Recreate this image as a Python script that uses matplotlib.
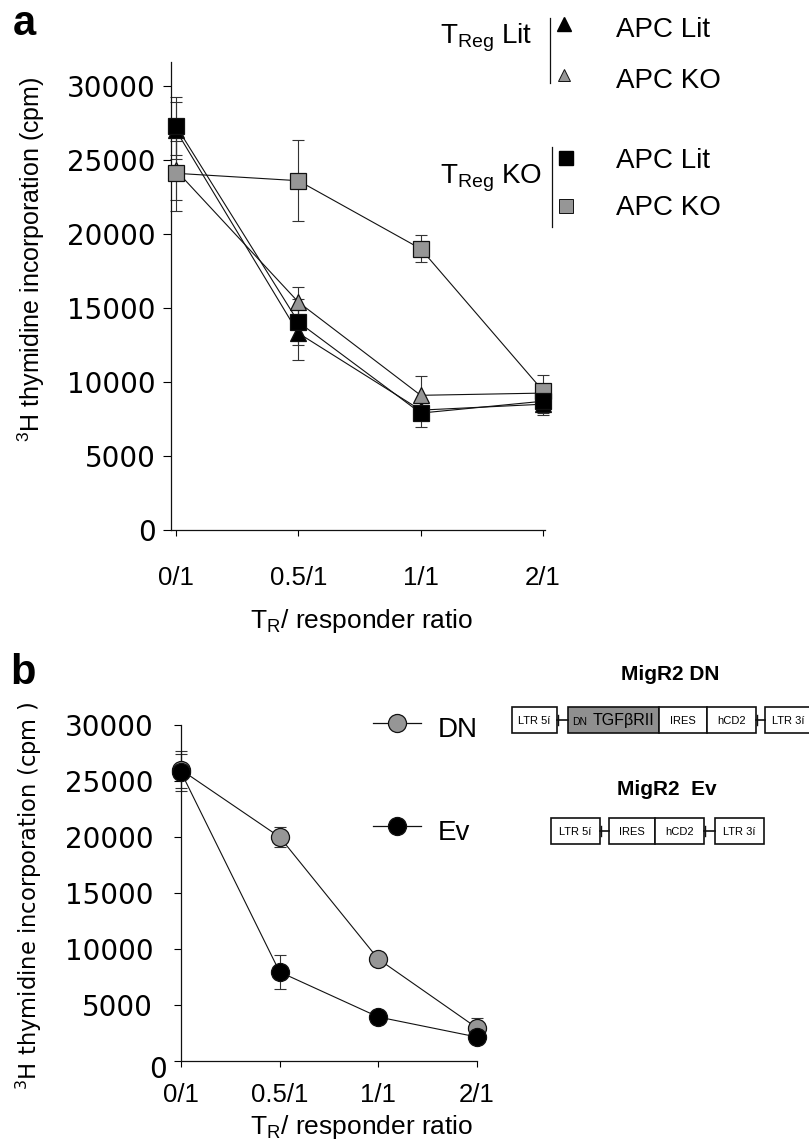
import matplotlib
matplotlib.use('Agg')
import matplotlib.pyplot as plt
from matplotlib.patches import Rectangle
import matplotlib.transforms as mtransforms

W, H, DPI = 809, 1145, 100

# ---------------- data ----------------
ratios = ['0/1', '0.5/1', '1/1', '2/1']
xpos = [0, 1, 2, 3]

# panel a  (3H thymidine incorporation, cpm)
treg_lit_apc_lit = [27000, 13300, 8100, 8500]
treg_lit_apc_lit_err = [1900, 1800, 700, 750]
treg_lit_apc_ko = [24300, 15400, 9100, 9250]
treg_lit_apc_ko_err = [2000, 1000, 1300, 300]
treg_ko_apc_lit = [27300, 14050, 7900, 8700]
treg_ko_apc_lit_err = [1950, 1550, 950, 800]
treg_ko_apc_ko = [24100, 23600, 19000, 9400]
treg_ko_apc_ko_err = [2550, 2750, 900, 1100]

# panel b
dn_vals = [26000, 20000, 9100, 2950]
dn_err = [1650, 900, 500, 900]
ev_vals = [25800, 7950, 3930, 2140]
ev_err = [1650, 1500, 300, 300]

yticks = [0, 5000, 10000, 15000, 20000, 25000, 30000]

GRAY = '#969696'
SANS = 'Liberation Sans'
TICKF = 'DejaVu Sans'

plt.rcParams['mathtext.fontset'] = 'custom'
plt.rcParams['mathtext.rm'] = SANS
plt.rcParams['mathtext.it'] = SANS
plt.rcParams['mathtext.bf'] = SANS + ':bold'

fig = plt.figure(figsize=(W / DPI, H / DPI), dpi=DPI)


def px_rect(l, t, r, b):
    return [l / W, 1 - b / H, (r - l) / W, (b - t) / H]


def style_axes(ax, ypad, xpad, ticklen):
    for s in ('top', 'right'):
        ax.spines[s].set_visible(False)
    for s in ('left', 'bottom'):
        ax.spines[s].set_linewidth(0.9)
        ax.spines[s].set_color('#111111')
    ax.set_yticks(yticks)
    ax.set_yticklabels([str(v) for v in yticks], fontfamily=TICKF, fontsize=20)
    ax.set_xticks(xpos)
    ax.set_xticklabels(ratios, fontfamily=SANS, fontsize=18.5)
    ax.tick_params(axis='y', direction='out', length=ticklen, width=0.8, pad=ypad)
    ax.tick_params(axis='x', direction='out', length=4, width=0.8, pad=xpad)


def series(ax, y, err, marker, color, ms):
    ax.errorbar(xpos, y, yerr=err, fmt='none', ecolor='#333333', elinewidth=0.8,
                capsize=4.3, capthick=0.8, clip_on=False, zorder=2)
    ax.plot(xpos, y, color='#111111', lw=0.8, marker=marker, ms=ms,
            markerfacecolor=color, markeredgecolor='#111111', markeredgewidth=0.9,
            clip_on=False, zorder=3)


# ---------------- panel a ----------------
axa = fig.add_axes(px_rect(171, 62, 545, 530))
style_axes(axa, ypad=5, xpad=22, ticklen=6)
axa.set_xlim(-0.041, 3.016)
axa.set_ylim(0, 31620)
series(axa, treg_lit_apc_lit, treg_lit_apc_lit_err, '^', '#000000', 12)
series(axa, treg_lit_apc_ko, treg_lit_apc_ko_err, '^', GRAY, 12)
series(axa, treg_ko_apc_ko, treg_ko_apc_ko_err, 's', GRAY, 12)
series(axa, treg_ko_apc_lit, treg_ko_apc_lit_err, 's', '#000000', 12)
axa.set_ylabel(r'$^{\mathregular{3}}$H thymidine incorporation (cpm)',
               fontfamily=SANS, fontsize=18)
axa.yaxis.set_label_coords((47 - 171) / 374, (530 - 259) / 468)
axa.set_xlabel(r'T$_{\mathregular{R}}$/ responder ratio', fontfamily=SANS, fontsize=19)
axa.xaxis.set_label_coords((362 - 171) / 374, -(621 - 530) / 468)
axa.xaxis.label.set_va('center')

# ---------------- panel b ----------------
axb = fig.add_axes(px_rect(181, 725, 477, 1061))
style_axes(axb, ypad=15, xpad=12, ticklen=5)
axb.set_xlim(0, 3)
axb.set_ylim(0, 30000)
series(axb, dn_vals, dn_err, 'o', GRAY, 13)
series(axb, ev_vals, ev_err, 'o', '#000000', 13)
axb.set_ylabel(r'$^{\mathregular{3}}$H thymidine incorporation (cpm )',
               fontfamily=TICKF, fontsize=16.3)
axb.yaxis.set_label_coords((44 - 181) / 296, (1061 - 896) / 336)
axb.set_xlabel(r'T$_{\mathregular{R}}$/ responder ratio', fontfamily=SANS, fontsize=19)
axb.xaxis.set_label_coords((362 - 181) / 296, -(1127 - 1061) / 336)
axb.xaxis.label.set_va('center')
# the "0" label sits a bit lower-right in the original
lab0 = axb.get_yticklabels()[0]
lab0.set_transform(lab0.get_transform() +
                   mtransforms.ScaledTranslation(14 / DPI, -6 / DPI, fig.dpi_scale_trans))

# ---------------- overlay (legends, letters, constructs) ----------------
ov = fig.add_axes([0, 0, 1, 1], zorder=5)
ov.set_xlim(0, W)
ov.set_ylim(H, 0)
ov.axis('off')
ov.patch.set_visible(False)

ov.text(13, 35, 'a', fontfamily=SANS, fontweight='bold', fontsize=30, va='baseline')
ov.text(10, 684, 'b', fontfamily=SANS, fontweight='bold', fontsize=30, va='baseline')

# panel a legend
ov.text(440, 43, r'T$_{\mathregular{Reg}}$ Lit', fontfamily=SANS, fontsize=20, va='baseline')
ov.text(440, 183, r'T$_{\mathregular{Reg}}$ KO', fontfamily=SANS, fontsize=20, va='baseline')
ov.plot([550, 550], [18, 83], color='#111111', lw=0.9)
ov.plot([552, 552], [147, 227], color='#111111', lw=0.9)
ov.plot([564], [24], marker='^', ms=10, color='#000000', mec='#000000')
ov.plot([564], [75], marker='^', ms=9, color=GRAY, mec='#111111', mew=0.7)
ov.plot([566], [158], marker='s', ms=10, color='#000000', mec='#000000')
ov.plot([566], [206], marker='s', ms=10, color=GRAY, mec='#111111', mew=0.7)
for yb, t in [(37, 'APC Lit'), (88, 'APC KO'), (168, 'APC Lit'), (215, 'APC KO')]:
    ov.text(616, yb, t, fontfamily=SANS, fontsize=20, va='baseline')

# panel b legend
for yc, col, t in [(723, GRAY, 'DN'), (826, '#000000', 'Ev')]:
    ov.plot([373, 421], [yc, yc], color='#111111', lw=0.9)
    ov.plot([397], [yc], marker='o', ms=13, mfc=col, mec='#111111', mew=0.9)
    ov.text(438, yc + 14, t, fontfamily=SANS, fontsize=20, va='baseline')


# constructs
def box(l, r, t, b, label, fill='white', fs=8):
    ov.add_patch(Rectangle((l, t), r - l, b - t, facecolor=fill, edgecolor='#111111',
                           lw=1.2, clip_on=False))
    if label:
        ov.text((l + r) / 2, (t + b) / 2 + 1, label, fontfamily=SANS, fontsize=fs,
                ha='center', va='center')


def link(l, r, t, b):
    m = (t + b) / 2
    ov.plot([l, r], [m, m], color='#111111', lw=1.2)
    ov.plot([l + 1.5, l + 1.5], [m - 5, m + 5], color='#111111', lw=1.0)


ov.text(670, 680, 'MigR2 DN', fontfamily=SANS, fontweight='bold', fontsize=15,
        ha='center', va='baseline')
t1, b1 = 707, 733
box(512, 557, t1, b1, 'LTR 5í')
link(557, 568, t1, b1)
box(568, 659, t1, b1, '', fill='#8f8f8f')
ov.text(572, (t1 + b1) / 2 + 2, 'DN', fontfamily=SANS, fontsize=7.5, va='center')
ov.text(593, (t1 + b1) / 2 + 1, 'TGFβRII', fontfamily=SANS, fontsize=11.5, va='center')
box(659, 707, t1, b1, 'IRES')
box(707, 756, t1, b1, 'hCD2')
link(756, 765, t1, b1)
ov.add_patch(Rectangle((765, t1), 60, b1 - t1, facecolor='white', edgecolor='#111111',
                       lw=1.2, clip_on=False))
ov.text(772, (t1 + b1) / 2 + 1, 'LTR 3í', fontfamily=SANS, fontsize=8, va='center')

ov.text(667, 795, 'MigR2  Ev', fontfamily=SANS, fontweight='bold', fontsize=15,
        ha='center', va='baseline')
t2, b2 = 818, 844
box(551, 600, t2, b2, 'LTR 5í')
link(600, 609, t2, b2)
box(609, 655, t2, b2, 'IRES')
box(655, 704, t2, b2, 'hCD2')
link(704, 715, t2, b2)
box(715, 764, t2, b2, 'LTR 3í')

fig.savefig('out.png', dpi=DPI)
